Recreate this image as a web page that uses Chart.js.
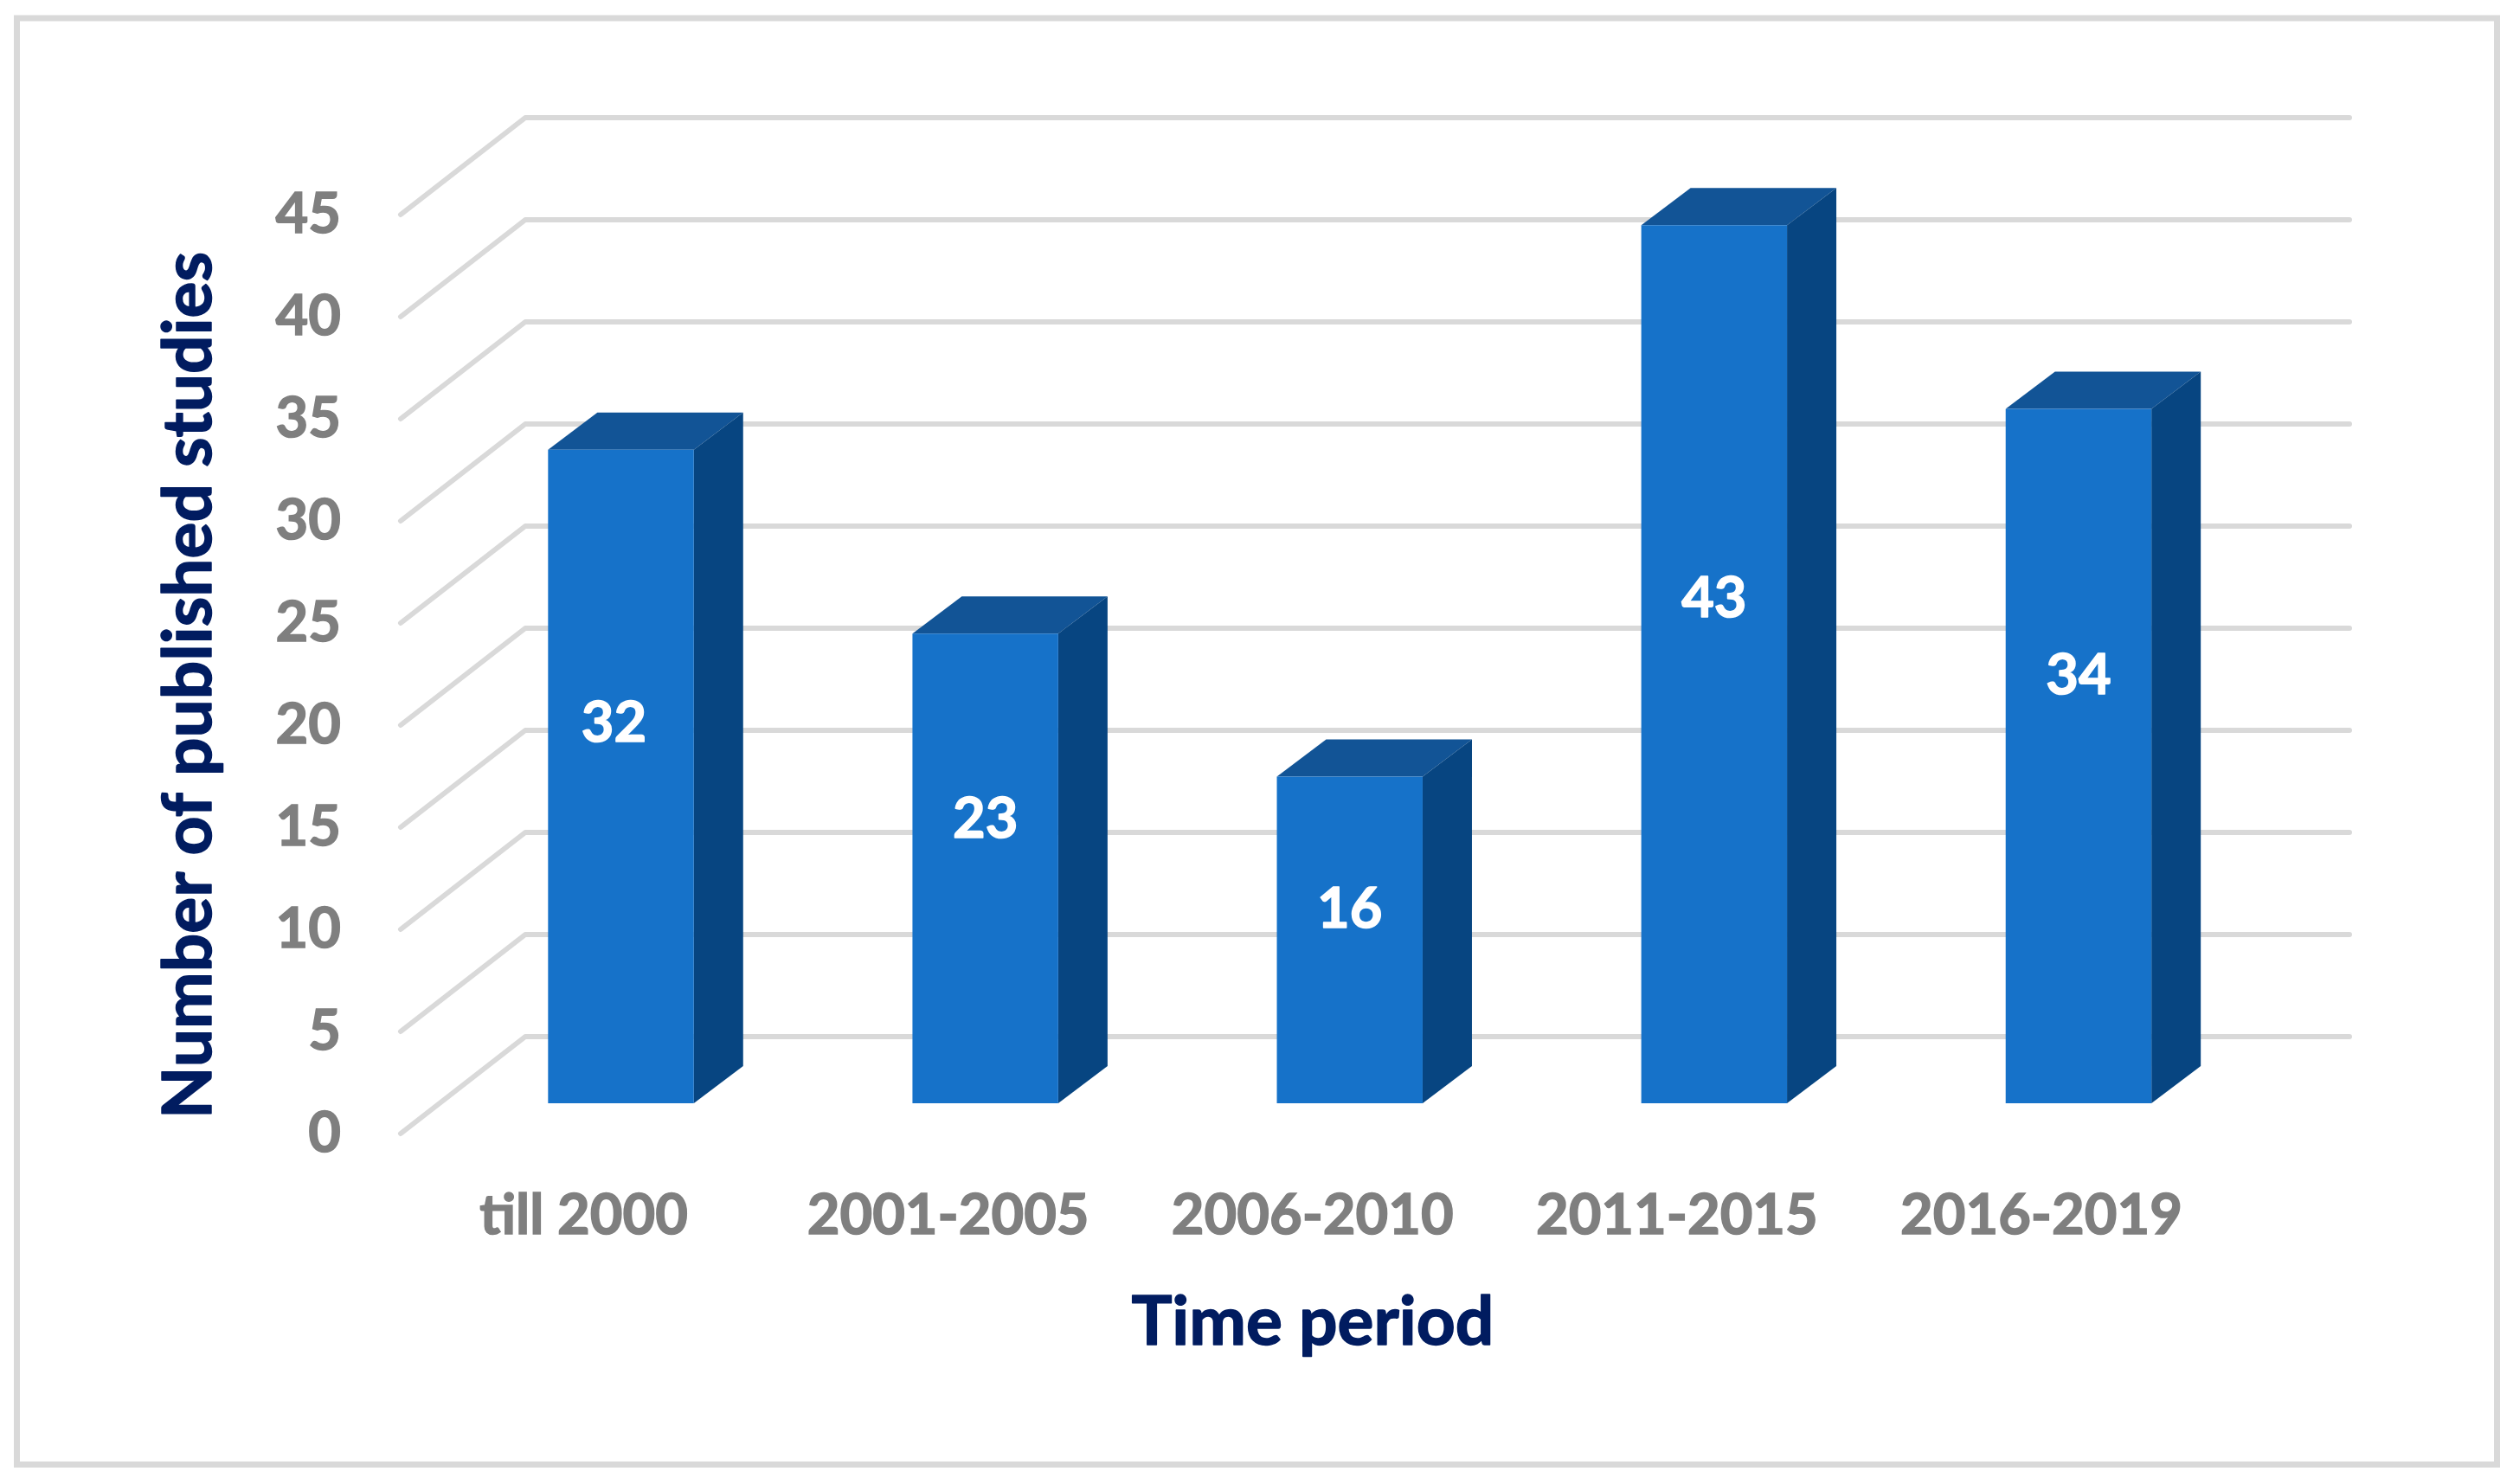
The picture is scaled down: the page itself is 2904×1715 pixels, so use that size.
<!DOCTYPE html>
<html>
<head>
<meta charset="utf-8">
<style>html,body{margin:0;padding:0;background:#fff}#w{width:2904px;height:1715px}</style>
<script src="https://cdn.jsdelivr.net/npm/chart.js@4/dist/chart.umd.min.js"></script>
</head>
<body>
<div id="w"><canvas id="c" width="2904" height="1715"></canvas></div>
<script>
const categories = ["till 2000","2001-2005","2006-2010","2011-2015","2016-2019"];
const studies = [32,23,16,43,34];
const yMax = 45, yStep = 5;
const labelAnchors = [18.6,13.9,9.5,24.7,20.95];
const xTitle = "Time period";
const yTitle = "Number of published studies";

const FONT = "Lato, Carlito, sans-serif";
const threeD = {
  id:"threeD",
  beforeDraw(ch){
    const c=ch.ctx;
    c.save();
    c.fillStyle="#fff";c.fillRect(0,0,2904,1715);
    c.strokeStyle="#d9d9d9";c.lineWidth=7;
    c.strokeRect(19.5,21,2866,1671.5);
    c.restore();
  },
  beforeDatasetsDraw(ch){
    const c=ch.ctx,y=ch.scales.y;
    c.save();
    c.strokeStyle="#d9d9d9";c.lineWidth=6;c.lineCap="round";c.lineJoin="round";
    y.ticks.forEach(t=>{
      const p=y.getPixelForValue(t.value);
      c.beginPath();
      c.moveTo(463,p+35);
      c.lineTo(607,p-77);
      c.lineTo(2715,p-77);
      c.stroke();
    });
    c.restore();
    const m=ch.getDatasetMeta(0);
    c.save();
    m.data.forEach(b=>{
      const l=b.x-b.width/2,r=b.x+b.width/2,t=b.y,bt=b.base,dx=57,dy=43;
      c.fillStyle="#125496";
      c.beginPath();c.moveTo(l,t);c.lineTo(l+dx,t-dy);c.lineTo(r+dx,t-dy);c.lineTo(r,t);c.closePath();c.fill();
      c.fillStyle="#074581";
      c.beginPath();c.moveTo(r,t);c.lineTo(r+dx,t-dy);c.lineTo(r+dx,bt-dy);c.lineTo(r,bt);c.closePath();c.fill();
    });
    c.restore();
  },
  afterDatasetsDraw(ch){
    const c=ch.ctx,m=ch.getDatasetMeta(0),y=ch.scales.y;
    c.save();
    c.lineJoin="round";
    c.fillStyle="#fff";c.strokeStyle="#fff";c.lineWidth=1.5;c.font="bold 65px "+FONT;c.textAlign="center";c.textBaseline="middle";
    m.data.forEach((b,i)=>{
      const s=String(studies[i]),px=b.x-(i===0?8:0),py=y.getPixelForValue(labelAnchors[i]);
      c.fillText(s,px,py);c.strokeText(s,px,py);
    });
    c.fillStyle="#011c60";c.strokeStyle="#011c60";c.lineWidth=1.5;c.font="bold 78.5px "+FONT;
    c.fillText(xTitle,1517,1529);c.strokeText(xTitle,1517,1529);
    c.translate(219,792);c.rotate(-Math.PI/2);
    c.fillText(yTitle,0,0);c.strokeText(yTitle,0,0);
    c.restore();
  }
};
const tickFont={family:FONT,weight:"bold",size:65};
new Chart(document.getElementById("c"),{
  type:"bar",
  data:{labels:categories,datasets:[{data:studies,backgroundColor:"#1672c9",borderWidth:0,barPercentage:0.4,categoryPercentage:1}]},
  plugins:[threeD],
  options:{
    responsive:false,animation:false,
    layout:{padding:{left:0,right:291.5,top:213,bottom:0}},
    plugins:{legend:{display:false},tooltip:{enabled:false},title:{display:false}},
    scales:{
      x:{
        grid:{display:false,drawTicks:false},border:{display:false},
        ticks:{color:"#7f7f7f",font:tickFont,textStrokeColor:"#7f7f7f",textStrokeWidth:1.5,padding:91,labelOffset:-43,autoSkip:false,maxRotation:0,minRotation:0},
        afterFit(s){s.height=440;}
      },
      y:{
        min:0,max:yMax,
        grid:{display:false,drawTicks:false},border:{display:false},
        ticks:{stepSize:yStep,color:"#7f7f7f",font:tickFont,textStrokeColor:"#7f7f7f",textStrokeWidth:1.5,padding:113,labelOffset:35},
        afterFit(s){s.width=507;}
      }
    }
  }
});
</script>
</body>
</html>
